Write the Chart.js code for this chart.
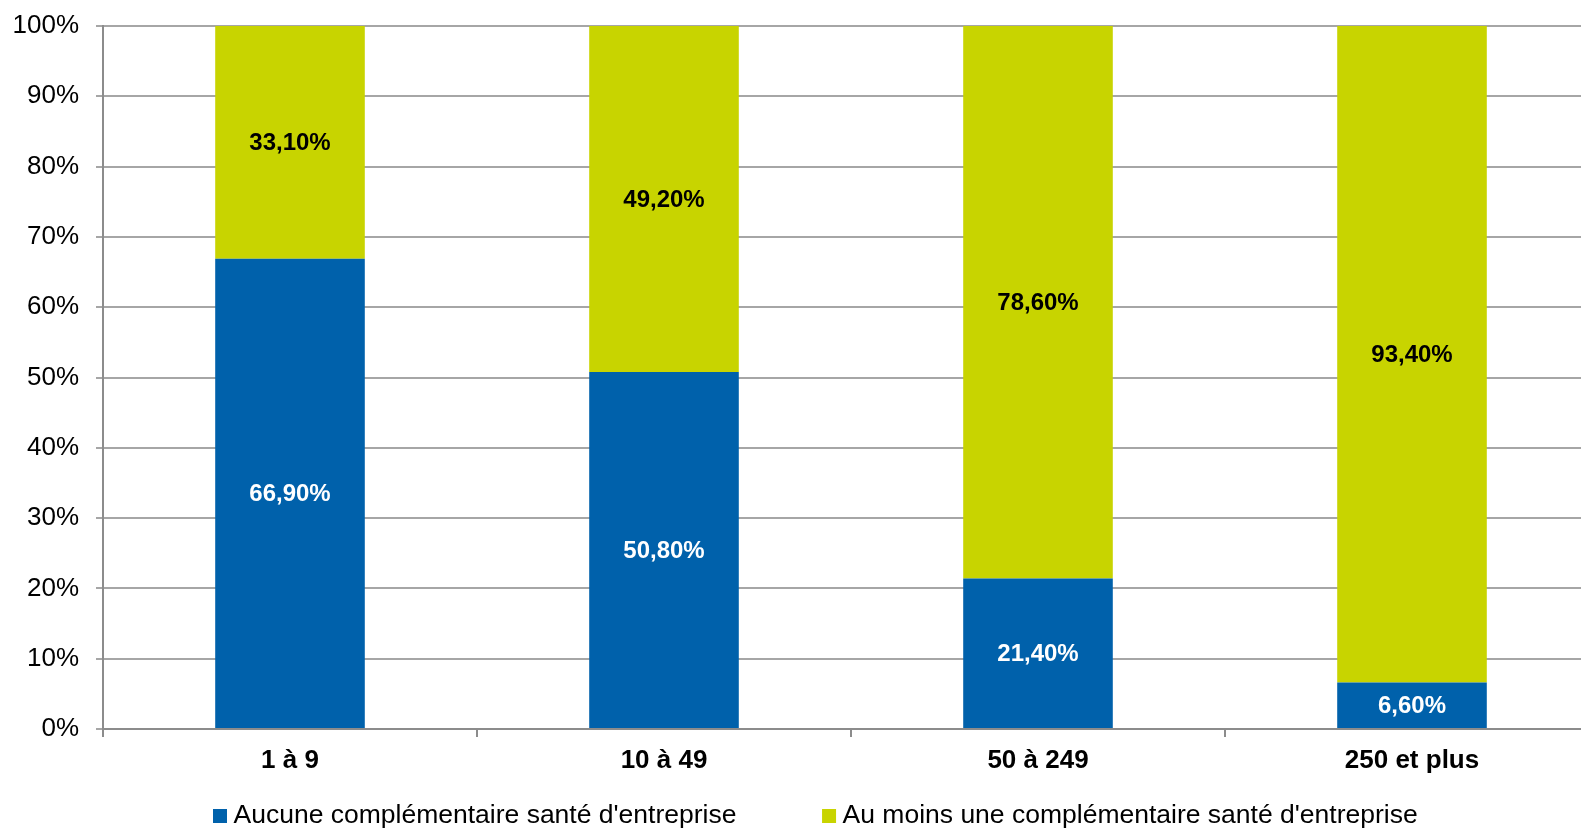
<!DOCTYPE html>
<html>
<head>
<meta charset="utf-8">
<script src="https://cdn.jsdelivr.net/npm/chart.js@4/dist/chart.umd.min.js"></script>
<style>
  html, body { margin: 0; padding: 0; background: #fff; overflow: hidden; }
  #clip { width: 1581px; height: 830px; overflow: hidden; position: relative; }
  canvas { display: block; }
</style>
</head>
<body>
<div id="clip"><canvas id="c" width="1640" height="830" style="width:1640px;height:830px"></canvas></div>
<script>
const categories = ['1 à 9', '10 à 49', '50 à 249', '250 et plus'];
const seriesNames = ["Aucune complémentaire santé d'entreprise", "Au moins une complémentaire santé d'entreprise"];
const aucune = [66.9, 50.8, 21.4, 6.6];
const auMoins = [33.1, 49.2, 78.6, 93.4];
const yTickValues = [0, 10, 20, 30, 40, 50, 60, 70, 80, 90, 100];

const BLUE = '#0061AB';
const GREEN = '#C8D400';
const FONT = "'Liberation Sans', Arial, sans-serif";

const fmt = v => v.toFixed(2).replace('.', ',') + '%';

const valueLabels = {
  id: 'valueLabels',
  afterDatasetsDraw(chart) {
    const ctx = chart.ctx;
    ctx.save();
    ctx.font = 'bold 24px ' + FONT;
    ctx.textAlign = 'center';
    ctx.textBaseline = 'middle';
    chart.data.datasets.forEach((ds, di) => {
      const meta = chart.getDatasetMeta(di);
      meta.data.forEach((bar, i) => {
        const top = Math.min(bar.y, bar.base);
        const bottom = Math.max(bar.y, bar.base);
        ctx.fillStyle = di === 0 ? '#FFFFFF' : '#000000';
        ctx.fillText(fmt(ds.data[i]), bar.x, (top + bottom) / 2 + 1);
      });
    });
    ctx.restore();
  }
};

const customLegend = {
  id: 'customLegend',
  afterDraw(chart) {
    const ctx = chart.ctx;
    ctx.save();
    ctx.font = '26.5px ' + FONT;
    ctx.textBaseline = 'alphabetic';
    ctx.textAlign = 'left';
    const box = 14, gap = 6.5, spacing = 85.6;
    const items = chart.data.datasets.map(ds => ({ text: ds.label, color: ds.backgroundColor, w: ctx.measureText(ds.label).width }));
    let x = 213;
    const baseline = 823;
    items.forEach(it => {
      ctx.fillStyle = it.color;
      ctx.fillRect(x, 809, box, box);
      ctx.fillStyle = '#000';
      ctx.fillText(it.text, x + box + gap, baseline);
      x += box + gap + it.w + spacing;
    });
    ctx.restore();
  }
};

new Chart(document.getElementById('c'), {
  type: 'bar',
  data: {
    labels: categories,
    datasets: [
      { label: seriesNames[0], data: aucune, backgroundColor: BLUE, borderWidth: 0 },
      { label: seriesNames[1], data: auMoins, backgroundColor: GREEN, borderWidth: 0 }
    ]
  },
  options: {
    responsive: false,
    maintainAspectRatio: false,
    animation: false,
    devicePixelRatio: 1,
    layout: { padding: { top: 26, right: 41, bottom: 51, left: 0 } },
    datasets: { bar: { categoryPercentage: 1.0, barPercentage: 0.4 } },
    plugins: {
      legend: { display: false },
      tooltip: { enabled: false }
    },
    scales: {
      x: {
        stacked: true,
        offset: true,
        afterFit(s) { s.height = 50; s.paddingLeft = 0; s.paddingRight = 0; },
        grid: { display: true, drawOnChartArea: false, drawTicks: true, tickLength: 8, color: '#8C8C8C', lineWidth: 2, offset: true },
        border: { display: true, color: '#8C8C8C', width: 2 },
        ticks: { color: '#000', font: { family: FONT, size: 26, weight: 'bold' }, padding: 8 }
      },
      y: {
        stacked: true,
        min: 0,
        max: 100,
        afterFit(s) { s.width = 103; s.paddingTop = 0; s.paddingBottom = 0; },
        afterBuildTicks(s) { s.ticks = yTickValues.map(v => ({ value: v })); },
        grid: { color: '#A6A6A6', lineWidth: 2, drawTicks: true, tickLength: 7 },
        border: { display: true, color: '#8C8C8C', width: 2 },
        ticks: { color: '#000', font: { family: FONT, size: 26 }, padding: 17, callback: v => v + '%' }
      }
    }
  },
  plugins: [valueLabels, customLegend]
});
</script>
</body>
</html>
